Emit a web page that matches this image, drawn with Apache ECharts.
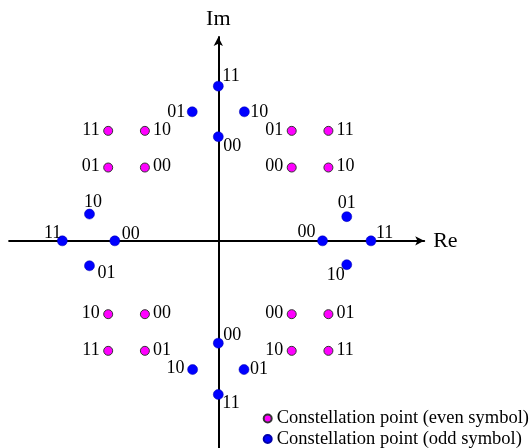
<!DOCTYPE html>
<html>
<head>
<meta charset="utf-8">
<script src="https://cdn.jsdelivr.net/npm/echarts@6/dist/echarts.min.js"></script>
<style>html,body{margin:0;padding:0;background:#fff}#c{width:531px;height:448px}</style>
</head>
<body>
<div id="c"></div>
<script>
// Even symbol constellation points (magenta)
const evenX = [-3, -2, -3, -2, 2, 3, 2, 3, -3, -2, -3, -2, 2, 3, 2, 3];
const evenY = [3, 3, 2, 2, 3, 3, 2, 2, -2, -2, -3, -3, -2, -2, -3, -3];
const evenLabels = ['11','10','01','00','01','11','00','10','10','00','11','01','00','01','10','11'];

// Odd symbol constellation points (blue)
const oddX = [0, 0, -0.71, 0.71, -4.25, -2.82, -3.51, -3.51, 4.16, 2.84, 3.5, 3.5, 0, 0, -0.7, 0.7];
const oddY = [4.22, 2.84, 3.52, 3.52, 0, 0, 0.73, -0.68, 0, 0, 0.66, -0.65, -2.79, -4.19, -3.51, -3.51];
const oddLabels = ['11','00','01','10','11','00','10','01','11','00','01','10','00','11','10','01'];

const seriesNames = ['Constellation point (even symbol)', 'Constellation point (odd symbol)'];
const axisNames = ['Re', 'Im'];

// label placement config (align, dx, dy) for odd points
const oddPlace = [
  ['left',4,-10],['left',5,10],['right',-7,0],['left',6,0],
  ['right',-1,-7.5],['left',7,-7],['center',3.5,-12],['left',8,7],
  ['left',5,-8],['right',-7,-8.5],['center',0,-13],['right',-2,10.5],
  ['left',5,-8],['left',4,8.5],['right',-8,-1],['left',6,0]
];

const FONT = 'Liberation Serif, Times New Roman, serif';

function evenData() {
  return evenX.map((x, i) => {
    const left = x < -2.5 || (x > 0 && x < 2.5);
    return {
      value: [x, evenY[i]], name: evenLabels[i],
      label: { align: left ? 'right' : 'left', offset: [left ? -8.5 : 8, -1] }
    };
  });
}
function oddData() {
  return oddX.map((x, i) => ({
    value: [x, oddY[i]], name: oddLabels[i],
    label: { align: oddPlace[i][0], offset: [oddPlace[i][1], oddPlace[i][2]] }
  }));
}

const labelBase = {
  show: true, position: 'inside', formatter: p => p.name,
  color: '#000', fontFamily: FONT, fontSize: 18, verticalAlign: 'middle',
  textBorderWidth: 0
};

const chart = echarts.init(document.getElementById('c'), null, {renderer: 'canvas'});
chart.setOption({
  animation: false,
  backgroundColor: '#fff',
  grid: { left: 9.1, width: 415.1, top: 37, height: 411.2 },
  xAxis: {
    type: 'value', min: -5.7, max: 5.61,
    name: axisNames[0], nameLocation: 'end', nameGap: 9,
    nameTextStyle: { fontFamily: FONT, fontSize: 22, color: '#000', verticalAlign: 'middle' },
    axisLine: { onZero: true, symbol: ['none', 'arrow'], symbolSize: [7, 9], lineStyle: { color: '#000', width: 2 } },
    axisTick: { show: false }, axisLabel: { show: false }, splitLine: { show: false }
  },
  yAxis: {
    type: 'value', min: -5.65, max: 5.56,
    name: axisNames[1], nameLocation: 'end', nameGap: 7,
    nameTextStyle: { fontFamily: FONT, fontSize: 22, color: '#000' },
    axisLine: { onZero: true, symbol: ['none', 'arrow'], symbolSize: [7, 9], lineStyle: { color: '#000', width: 2 } },
    axisTick: { show: false }, axisLabel: { show: false }, splitLine: { show: false }
  },
  legend: {
    orient: 'vertical', left: 262.7, top: 409, height: 80, itemGap: 1.5, padding: 0,
    icon: 'circle', itemWidth: 8, itemHeight: 8,
    textStyle: { fontFamily: FONT, fontSize: 18.5, color: '#000' },
    data: seriesNames
  },
  series: [
    {
      name: seriesNames[0], type: 'scatter', symbolSize: 9,
      itemStyle: { color: '#ff00ff', borderColor: '#333', borderWidth: 1, opacity: 1 },
      label: labelBase, data: evenData(), z: 3
    },
    {
      name: seriesNames[1], type: 'scatter', symbolSize: 10,
      itemStyle: { color: '#0000ff', borderColor: '#0000aa', borderWidth: 0.5, opacity: 1 },
      label: labelBase, data: oddData(), z: 4
    }
  ]
});
</script>
</body>
</html>
